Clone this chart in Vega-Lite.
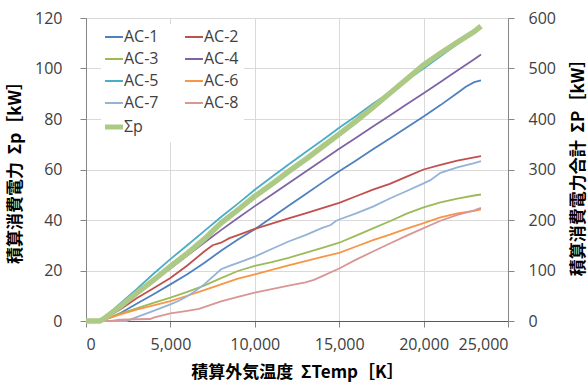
{
  "$schema": "https://vega.github.io/schema/vega-lite/v6.json",
  "width": 422,
  "height": 303,
  "autosize": "none",
  "padding": {"left": 86, "top": 18, "right": 79, "bottom": 62},
  "background": "white",
  "config": {
    "view": {"stroke": "#868686", "strokeWidth": 1},
    "axis": {
      "labelFont": "Open Sans",
      "labelFontSize": 16,
      "labelColor": "#404040",
      "titleFont": "Noto Sans CJK JP",
      "titleFontWeight": "bold",
      "titleFontSize": 17,
      "titleColor": "#000000",
      "domainColor": "#868686",
      "tickColor": "#868686",
      "tickSize": 6,
      "gridColor": "#D9D9D9",
      "gridWidth": 1
    },
    "legend": {
      "orient": "none",
      "legendX": 15,
      "legendY": 6,
      "columns": 2,
      "fillColor": "white",
      "padding": 5,
      "symbolType": "stroke",
      "symbolSize": 324,
      "labelFont": "Open Sans",
      "labelFontSize": 16,
      "labelColor": "#404040",
      "labelOffset": 2,
      "columnPadding": 22,
      "rowPadding": 6
    }
  },
  "datasets": {
    "ac": [
      {"t": 0, "s": "AC-1", "v": 0}, {"t": 800, "s": "AC-1", "v": 0}, {"t": 1000, "s": "AC-1", "v": 0.3}, {"t": 1500, "s": "AC-1", "v": 1.5}, {"t": 2000, "s": "AC-1", "v": 3}, {"t": 3000, "s": "AC-1", "v": 6.8}, {"t": 4000, "s": "AC-1", "v": 10.6}, {"t": 5000, "s": "AC-1", "v": 14.5}, {"t": 6000, "s": "AC-1", "v": 18.5}, {"t": 7000, "s": "AC-1", "v": 23}, {"t": 8000, "s": "AC-1", "v": 27.8}, {"t": 9000, "s": "AC-1", "v": 32.3}, {"t": 10000, "s": "AC-1", "v": 36.3}, {"t": 11000, "s": "AC-1", "v": 41}, {"t": 12000, "s": "AC-1", "v": 45.6}, {"t": 13000, "s": "AC-1", "v": 50.2}, {"t": 14000, "s": "AC-1", "v": 54.8}, {"t": 15000, "s": "AC-1", "v": 59.3}, {"t": 16000, "s": "AC-1", "v": 63.6}, {"t": 17000, "s": "AC-1", "v": 68}, {"t": 18000, "s": "AC-1", "v": 72.3}, {"t": 19000, "s": "AC-1", "v": 76.6}, {"t": 20000, "s": "AC-1", "v": 81}, {"t": 21000, "s": "AC-1", "v": 85.5}, {"t": 22000, "s": "AC-1", "v": 90.3}, {"t": 22500, "s": "AC-1", "v": 92.8}, {"t": 23000, "s": "AC-1", "v": 94.6}, {"t": 23400, "s": "AC-1", "v": 95.3},
      {"t": 0, "s": "AC-2", "v": 0}, {"t": 800, "s": "AC-2", "v": 0}, {"t": 1000, "s": "AC-2", "v": 0.5}, {"t": 2000, "s": "AC-2", "v": 4.5}, {"t": 3000, "s": "AC-2", "v": 9}, {"t": 4000, "s": "AC-2", "v": 13}, {"t": 5000, "s": "AC-2", "v": 17}, {"t": 6000, "s": "AC-2", "v": 22}, {"t": 7000, "s": "AC-2", "v": 27.5}, {"t": 7500, "s": "AC-2", "v": 30}, {"t": 8000, "s": "AC-2", "v": 31}, {"t": 8500, "s": "AC-2", "v": 32.8}, {"t": 9000, "s": "AC-2", "v": 34}, {"t": 10000, "s": "AC-2", "v": 36.5}, {"t": 11000, "s": "AC-2", "v": 38.6}, {"t": 12000, "s": "AC-2", "v": 40.6}, {"t": 13000, "s": "AC-2", "v": 42.6}, {"t": 14000, "s": "AC-2", "v": 44.7}, {"t": 15000, "s": "AC-2", "v": 46.8}, {"t": 16000, "s": "AC-2", "v": 49.4}, {"t": 17000, "s": "AC-2", "v": 52}, {"t": 18000, "s": "AC-2", "v": 54.3}, {"t": 19000, "s": "AC-2", "v": 57.2}, {"t": 20000, "s": "AC-2", "v": 60}, {"t": 21000, "s": "AC-2", "v": 61.8}, {"t": 22000, "s": "AC-2", "v": 63.5}, {"t": 23000, "s": "AC-2", "v": 64.8}, {"t": 23400, "s": "AC-2", "v": 65.3},
      {"t": 0, "s": "AC-3", "v": 0}, {"t": 800, "s": "AC-3", "v": 0}, {"t": 1000, "s": "AC-3", "v": 0.5}, {"t": 2000, "s": "AC-3", "v": 2.8}, {"t": 3000, "s": "AC-3", "v": 5}, {"t": 4000, "s": "AC-3", "v": 7.2}, {"t": 5000, "s": "AC-3", "v": 9.3}, {"t": 6000, "s": "AC-3", "v": 11.5}, {"t": 7000, "s": "AC-3", "v": 14}, {"t": 8000, "s": "AC-3", "v": 17}, {"t": 9000, "s": "AC-3", "v": 19.8}, {"t": 10000, "s": "AC-3", "v": 21.8}, {"t": 11000, "s": "AC-3", "v": 23.3}, {"t": 12000, "s": "AC-3", "v": 25}, {"t": 13000, "s": "AC-3", "v": 27}, {"t": 14000, "s": "AC-3", "v": 29}, {"t": 15000, "s": "AC-3", "v": 31}, {"t": 16000, "s": "AC-3", "v": 33.8}, {"t": 17000, "s": "AC-3", "v": 36.7}, {"t": 18000, "s": "AC-3", "v": 39.5}, {"t": 19000, "s": "AC-3", "v": 42.5}, {"t": 20000, "s": "AC-3", "v": 45}, {"t": 21000, "s": "AC-3", "v": 47}, {"t": 22000, "s": "AC-3", "v": 48.5}, {"t": 23000, "s": "AC-3", "v": 49.7}, {"t": 23400, "s": "AC-3", "v": 50.1},
      {"t": 0, "s": "AC-4", "v": 0}, {"t": 800, "s": "AC-4", "v": 0}, {"t": 1000, "s": "AC-4", "v": 0.8}, {"t": 2000, "s": "AC-4", "v": 5.8}, {"t": 3000, "s": "AC-4", "v": 10.8}, {"t": 4000, "s": "AC-4", "v": 15.8}, {"t": 5000, "s": "AC-4", "v": 20.8}, {"t": 6000, "s": "AC-4", "v": 25.9}, {"t": 7000, "s": "AC-4", "v": 31}, {"t": 8000, "s": "AC-4", "v": 36}, {"t": 9000, "s": "AC-4", "v": 40.8}, {"t": 10000, "s": "AC-4", "v": 45.5}, {"t": 11000, "s": "AC-4", "v": 50}, {"t": 12000, "s": "AC-4", "v": 54.6}, {"t": 13000, "s": "AC-4", "v": 59.1}, {"t": 14000, "s": "AC-4", "v": 63.7}, {"t": 15000, "s": "AC-4", "v": 68.2}, {"t": 16000, "s": "AC-4", "v": 72.6}, {"t": 17000, "s": "AC-4", "v": 77}, {"t": 18000, "s": "AC-4", "v": 81.4}, {"t": 19000, "s": "AC-4", "v": 85.8}, {"t": 20000, "s": "AC-4", "v": 90.2}, {"t": 21000, "s": "AC-4", "v": 94.7}, {"t": 22000, "s": "AC-4", "v": 99.2}, {"t": 23000, "s": "AC-4", "v": 103.7}, {"t": 23400, "s": "AC-4", "v": 105.5},
      {"t": 0, "s": "AC-5", "v": 0}, {"t": 800, "s": "AC-5", "v": 0}, {"t": 1000, "s": "AC-5", "v": 1}, {"t": 2000, "s": "AC-5", "v": 6.8}, {"t": 3000, "s": "AC-5", "v": 12.6}, {"t": 4000, "s": "AC-5", "v": 18.7}, {"t": 5000, "s": "AC-5", "v": 24.5}, {"t": 6000, "s": "AC-5", "v": 30}, {"t": 7000, "s": "AC-5", "v": 35.6}, {"t": 8000, "s": "AC-5", "v": 41.2}, {"t": 9000, "s": "AC-5", "v": 46.5}, {"t": 10000, "s": "AC-5", "v": 52}, {"t": 11000, "s": "AC-5", "v": 57}, {"t": 12000, "s": "AC-5", "v": 62}, {"t": 13000, "s": "AC-5", "v": 66.8}, {"t": 14000, "s": "AC-5", "v": 71.6}, {"t": 15000, "s": "AC-5", "v": 76.5}, {"t": 16000, "s": "AC-5", "v": 81.2}, {"t": 17000, "s": "AC-5", "v": 86}, {"t": 18000, "s": "AC-5", "v": 90.6}, {"t": 19000, "s": "AC-5", "v": 95.3}, {"t": 20000, "s": "AC-5", "v": 100}, {"t": 21000, "s": "AC-5", "v": 104.8}, {"t": 22000, "s": "AC-5", "v": 109.7}, {"t": 23000, "s": "AC-5", "v": 114.6}, {"t": 23400, "s": "AC-5", "v": 116.5},
      {"t": 0, "s": "AC-6", "v": 0}, {"t": 800, "s": "AC-6", "v": 0}, {"t": 1000, "s": "AC-6", "v": 0.3}, {"t": 2000, "s": "AC-6", "v": 2.5}, {"t": 3000, "s": "AC-6", "v": 4.5}, {"t": 4000, "s": "AC-6", "v": 6.2}, {"t": 5000, "s": "AC-6", "v": 7.9}, {"t": 6000, "s": "AC-6", "v": 10}, {"t": 7000, "s": "AC-6", "v": 12.2}, {"t": 8000, "s": "AC-6", "v": 14.5}, {"t": 9000, "s": "AC-6", "v": 16.8}, {"t": 10000, "s": "AC-6", "v": 18.5}, {"t": 11000, "s": "AC-6", "v": 20.2}, {"t": 12000, "s": "AC-6", "v": 22}, {"t": 13000, "s": "AC-6", "v": 23.7}, {"t": 14000, "s": "AC-6", "v": 25.4}, {"t": 15000, "s": "AC-6", "v": 27}, {"t": 16000, "s": "AC-6", "v": 29.5}, {"t": 17000, "s": "AC-6", "v": 32}, {"t": 18000, "s": "AC-6", "v": 34.2}, {"t": 19000, "s": "AC-6", "v": 36.6}, {"t": 20000, "s": "AC-6", "v": 38.8}, {"t": 21000, "s": "AC-6", "v": 41}, {"t": 22000, "s": "AC-6", "v": 42.6}, {"t": 23000, "s": "AC-6", "v": 43.6}, {"t": 23400, "s": "AC-6", "v": 44.2},
      {"t": 0, "s": "AC-7", "v": 0}, {"t": 2400, "s": "AC-7", "v": 0}, {"t": 3000, "s": "AC-7", "v": 1.5}, {"t": 4000, "s": "AC-7", "v": 4}, {"t": 5000, "s": "AC-7", "v": 6.6}, {"t": 5500, "s": "AC-7", "v": 8}, {"t": 6000, "s": "AC-7", "v": 9.8}, {"t": 6500, "s": "AC-7", "v": 12}, {"t": 7000, "s": "AC-7", "v": 14.5}, {"t": 7500, "s": "AC-7", "v": 17.5}, {"t": 8000, "s": "AC-7", "v": 20.5}, {"t": 8500, "s": "AC-7", "v": 21.8}, {"t": 9000, "s": "AC-7", "v": 23}, {"t": 10000, "s": "AC-7", "v": 25.5}, {"t": 11000, "s": "AC-7", "v": 28.5}, {"t": 12000, "s": "AC-7", "v": 31.5}, {"t": 13000, "s": "AC-7", "v": 34}, {"t": 14000, "s": "AC-7", "v": 36.9}, {"t": 14500, "s": "AC-7", "v": 38}, {"t": 14800, "s": "AC-7", "v": 39.6}, {"t": 15000, "s": "AC-7", "v": 40.2}, {"t": 16000, "s": "AC-7", "v": 42.6}, {"t": 17000, "s": "AC-7", "v": 45.3}, {"t": 18000, "s": "AC-7", "v": 48.5}, {"t": 19000, "s": "AC-7", "v": 51.5}, {"t": 20000, "s": "AC-7", "v": 54.5}, {"t": 20400, "s": "AC-7", "v": 55.8}, {"t": 21000, "s": "AC-7", "v": 58.7}, {"t": 22000, "s": "AC-7", "v": 60.8}, {"t": 23000, "s": "AC-7", "v": 62.5}, {"t": 23400, "s": "AC-7", "v": 63.3},
      {"t": 0, "s": "AC-8", "v": 0}, {"t": 1500, "s": "AC-8", "v": 0}, {"t": 2000, "s": "AC-8", "v": 0.5}, {"t": 3000, "s": "AC-8", "v": 0.7}, {"t": 3800, "s": "AC-8", "v": 0.8}, {"t": 4000, "s": "AC-8", "v": 1.3}, {"t": 5000, "s": "AC-8", "v": 3}, {"t": 6000, "s": "AC-8", "v": 4}, {"t": 6700, "s": "AC-8", "v": 4.8}, {"t": 7000, "s": "AC-8", "v": 5.5}, {"t": 8000, "s": "AC-8", "v": 7.8}, {"t": 9000, "s": "AC-8", "v": 9.6}, {"t": 10000, "s": "AC-8", "v": 11.2}, {"t": 11000, "s": "AC-8", "v": 12.6}, {"t": 12000, "s": "AC-8", "v": 14}, {"t": 13000, "s": "AC-8", "v": 15.3}, {"t": 13500, "s": "AC-8", "v": 16.3}, {"t": 14000, "s": "AC-8", "v": 17.8}, {"t": 15000, "s": "AC-8", "v": 20.8}, {"t": 16000, "s": "AC-8", "v": 24.3}, {"t": 17000, "s": "AC-8", "v": 27.5}, {"t": 18000, "s": "AC-8", "v": 30.7}, {"t": 19000, "s": "AC-8", "v": 33.8}, {"t": 20000, "s": "AC-8", "v": 36.8}, {"t": 21000, "s": "AC-8", "v": 39.7}, {"t": 22000, "s": "AC-8", "v": 42}, {"t": 23000, "s": "AC-8", "v": 43.8}, {"t": 23400, "s": "AC-8", "v": 44.8}
    ],
    "sum": [
      {"t": 0, "s": "Σp", "v": 0}, {"t": 800, "s": "Σp", "v": 0}, {"t": 1000, "s": "Σp", "v": 3}, {"t": 2000, "s": "Σp", "v": 28}, {"t": 3000, "s": "Σp", "v": 55}, {"t": 4000, "s": "Σp", "v": 81}, {"t": 5000, "s": "Σp", "v": 108}, {"t": 6000, "s": "Σp", "v": 134}, {"t": 7000, "s": "Σp", "v": 162}, {"t": 8000, "s": "Σp", "v": 194}, {"t": 9000, "s": "Σp", "v": 220}, {"t": 10000, "s": "Σp", "v": 247}, {"t": 11000, "s": "Σp", "v": 271}, {"t": 12000, "s": "Σp", "v": 296}, {"t": 13000, "s": "Σp", "v": 320}, {"t": 14000, "s": "Σp", "v": 345}, {"t": 15000, "s": "Σp", "v": 370}, {"t": 16000, "s": "Σp", "v": 396}, {"t": 17000, "s": "Σp", "v": 423}, {"t": 18000, "s": "Σp", "v": 451}, {"t": 19000, "s": "Σp", "v": 479}, {"t": 20000, "s": "Σp", "v": 507}, {"t": 21000, "s": "Σp", "v": 530}, {"t": 22000, "s": "Σp", "v": 552}, {"t": 23000, "s": "Σp", "v": 573}, {"t": 23400, "s": "Σp", "v": 584}
    ]
  },
  "layer": [
    {
      "data": {"name": "ac"},
      "mark": {"type": "line", "strokeWidth": 1.8, "interpolate": "linear"},
      "encoding": {
        "x": {
          "field": "t", "type": "quantitative",
          "scale": {"domain": [0, 25000], "nice": false, "zero": true},
          "axis": {
            "values": [0, 5000, 10000, 15000, 20000, 25000],
            "format": ",d",
            "grid": true,
            "labelPadding": 9,
            "domainColor": "#595959",
            "title": "積算外気温度\u00a0\u00a0ΣTemp［K］",
            "titleX": 211,
            "titleY": 51,
            "titleAlign": "center",
            "titleBaseline": "middle"
          }
        },
        "y": {
          "field": "v", "type": "quantitative",
          "scale": {"domain": [0, 120], "nice": false},
          "axis": {
            "values": [0, 20, 40, 60, 80, 100, 120],
            "grid": true,
            "labelPadding": 18,
            "title": "積算消費電力\u00a0\u00a0Σp［kW］",
            "titleAngle": 270,
            "titleX": -71,
            "titleY": 150,
            "titleAlign": "center",
            "titleBaseline": "middle"
          }
        },
        "color": {
          "field": "s", "type": "nominal",
          "scale": {
            "domain": ["AC-1", "AC-3", "AC-5", "AC-7", "Σp", "AC-2", "AC-4", "AC-6", "AC-8"],
            "range": ["#4F81BD", "#9BBB59", "#4BACC6", "#95B3D7", "#ADC986", "#C0504D", "#8064A2", "#F79646", "#D99694"]
          },
          "legend": {
            "title": null,
            "encode": {
              "symbols": {"update": {"strokeWidth": {"signal": "datum.value === 'Σp' ? 5 : 2"}}}
            }
          }
        }
      }
    },
    {
      "data": {"name": "sum"},
      "mark": {"type": "line", "strokeWidth": 5.5, "interpolate": "linear"},
      "encoding": {
        "x": {"field": "t", "type": "quantitative"},
        "y": {
          "field": "v", "type": "quantitative",
          "scale": {"domain": [0, 600], "nice": false},
          "axis": {
            "orient": "right",
            "values": [0, 100, 200, 300, 400, 500, 600],
            "grid": false,
            "labelPadding": 14,
            "title": "積算消費電力合計\u00a0\u00a0ΣP［kW］",
            "titleAngle": 270,
            "titleX": 70,
            "titleY": 145,
            "titleAlign": "center",
            "titleBaseline": "middle"
          }
        },
        "color": {"field": "s", "type": "nominal"}
      }
    }
  ],
  "resolve": {"scale": {"y": "independent"}}
}
